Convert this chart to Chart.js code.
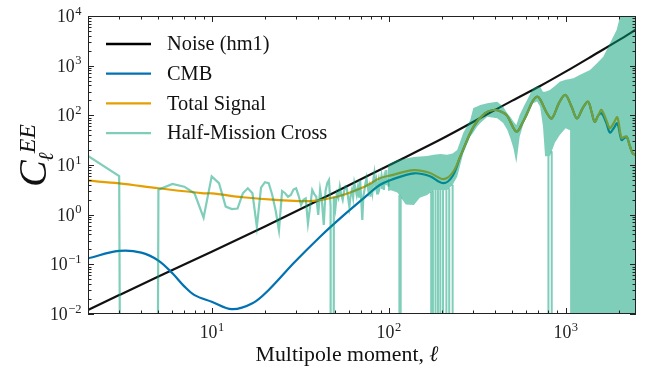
<!DOCTYPE html>
<html><head><meta charset="utf-8">
<script src="https://cdn.jsdelivr.net/npm/chart.js@4"></script>
<style>html,body{margin:0;padding:0;background:#fff}</style>
</head><body>
<canvas id="c" width="649" height="367"></canvas>
<script>
// ---- data ----
const noiseL = [2, 3, 5, 10, 20, 50, 100, 200, 500, 718, 1000, 1500, 2000, 2500];
const noiseV = [0.012, 0.024, 0.057, 0.18, 0.58, 2.85, 9.8, 33.7, 198, 389, 757, 1775, 3260, 5350];

const cmbL = [2,3,4,5,6,7,8,10,13,17,21,29,41,56,76,89,103,139,170,204,230,254,302,350,392,430,465,527,570,606,650,688,718,785,836,920,997,1080,1160,1250,1340,1400,1460,1530,1595,1700,1780,1870,1960,2070,2150,2220,2300,2400,2500];
const cmbV = [0.132,0.186,0.172,0.119,0.066,0.036,0.024,0.0177,0.0125,0.0164,0.0305,0.105,0.36,0.99,2.5,3.96,5.0,6.8,6.0,4.3,6,14.7,59,110,128,120,100,47,70,110,190,237,210,110,87,180,257,150,87,140,188,120,74,100,110,70,45,55,69,32,35,37,25,17,16];

const totL = [2,3,5,9,10,15,23,36,51,73,89,103,139,170,204,230,254,302,350,392,430,465,527,570,606,650,688,718,785,836,920,997,1080,1160,1250,1340,1400,1460,1530,1595,1700,1780,1870,1960,2070,2150,2220,2300,2400,2500];
const totV = [4.83,4.28,3.4,2.69,2.69,2.24,1.98,1.88,2.3,3.66,5.4,6.2,7.9,7.0,5.2,7,15,60,110,128,120,100,47,70,110,190,237,210,110,87,180,257,150,87,140,188,120,74,100,128,80,55,70,91,35,37,37,25,17,16];

// half-mission cross, individual multipoles l = 2..100 (0 = negative, off the log axis)
const crossL = Array.from({length: 99}, (_, i) => i + 2);
const crossV = [
  15.2,6.0,0,3.16,4.15,3.66,2.69,0.87,5.9,                 // l=2..10
  4.3,1.45,1.3,1.33,2.69,3.4,2.69,0.57,3.5,4.5,             // 11..20
  4.3,2.5,1.2,0.48,3.0,2.7,2.3,2.5,3.2,3.39,                // 21..30
  2.4,1.57,2.0,2.13,0.67,1.45,3.14,2.6,2.3,0.99,            // 31..40
  3.14,1.8,0.62,3.0,4.3,5.0,1.45,0,2.3,1.34,                // 41..50
  2.69,2.2,3.66,2.5,1.98,3.0,3.66,3.4,2.2,1.45,             // 51..60
  2.5,3.14,2.2,4.3,3.3,2.49,3.5,2.2,5.0,2.0,                // 61..70
  0.78,2.4,3.14,4.3,5.4,3.8,2.9,3.6,2.3,4.3,                // 71..80
  3.0,5.2,6.8,3.9,4.8,2.69,3.9,5.0,3.6,4.4,                 // 81..90
  5.8,3.3,4.6,3.14,5.2,4.0,7.9,4.1,5.2,3.66                 // 91..100
];

// half-mission cross, dense multipoles: envelope of the scatter
const bandL = [99,103,112,125,139,150,165,180,196,214,230,244,264,289,301,316,330,361,411,444,468,487,507,527,550,580,606,655,690,718,745,766,815,870,927,1000,1060,1085,1107,1200,1374,1500,1633,1781,1943,2030,2100,2500];
const bandUp = [10,11,12.6,13.5,14.5,14.8,15.2,16,16.6,16,17,20,44,80,141,150,162,175,188,149,110,94,75,64,102,150,204,350,377,377,299,299,324,389,476,520,540,550,557,650,818,1100,1513,2820,5240,9700,20000,20000];
const bandLo = [3.0,3.1,2.8,1.6,1.57,2.2,2.5,3.1,3.1,3.1,4,5.8,17,37,45,59,70,94,87,70,51,35,22,10.8,37,70,94,175,190,149,60,15,15,28,40,55,50,0,0,0,0,0,0,0,0,0,0,0];
// multipoles where the cross spectrum dips negative inside the dense range
const negL = [115,117,174,178,184,190,196,203,212,220,230,800,835];

const OFF = 1e-100; // non-positive values are drawn off the bottom of the log axis
const pos = v => (v > 0 ? v : OFF);
const pts = (L, V) => L.map((l, i) => ({x: l, y: pos(V[i])}));
function bandLowAt(l){
  for (let i = 1; i < bandL.length; i++) if (bandL[i] >= l) {
    const a = bandLo[i-1], b = bandLo[i];
    if (!(a > 0 && b > 0)) return Math.max(a, b, 1);
    const t = (Math.log(l) - Math.log(bandL[i-1])) / (Math.log(bandL[i]) - Math.log(bandL[i-1]));
    return Math.exp(Math.log(a) + t * (Math.log(b) - Math.log(a)));
  }
  return 1;
}
const negPts = [];
negL.forEach(l => { negPts.push({x: l, y: bandLowAt(l)}, {x: l, y: OFF}, {x: l, y: null}); });

const TEAL = 'rgba(0,158,115,0.5)';
const SERIF = '"Liberation Serif", "DejaVu Serif", serif';

const legendItems = [
  {label: 'Noise (hm1)', color: '#000000'},
  {label: 'CMB', color: '#0072b2'},
  {label: 'Total Signal', color: '#e69f00'},
  {label: 'Half-Mission Cross', color: TEAL}
];

function sup(ctx, base, exp, x, y, align) {
  ctx.font = '17.8px ' + SERIF;
  const w1 = ctx.measureText(base).width;
  ctx.font = '12.5px ' + SERIF;
  const w2 = ctx.measureText(exp).width;
  let x0 = align === 'right' ? x - w1 - w2 : x - (w1 + w2) / 2;
  ctx.textAlign = 'left';
  ctx.textBaseline = 'alphabetic';
  ctx.font = '17.8px ' + SERIF;
  ctx.fillText(base, x0, y);
  ctx.font = '12.5px ' + SERIF;
  ctx.fillText(exp, x0 + w1 + 0.5, y - 7.5);
}

const decor = {
  id: 'decor',
  afterDraw(chart) {
    const ctx = chart.ctx, a = chart.chartArea;
    const xs = chart.scales.x, ys = chart.scales.y;
    ctx.save();
    ctx.strokeStyle = '#222';
    ctx.lineWidth = 1;
    ctx.strokeRect(a.left + 0.5, a.top + 0.5, a.right - a.left - 1, a.bottom - a.top - 1);
    for (let e = -2; e <= 4; e++) {
      for (let m = 1; m <= 9; m++) {
        const v = m * Math.pow(10, e);
        if (v > 1e4 + 1) break;
        const py = Math.round(ys.getPixelForValue(v)) + 0.5;
        const len = m === 1 ? 6 : 3.5;
        ctx.beginPath();
        ctx.moveTo(a.left, py); ctx.lineTo(a.left + len, py);
        ctx.moveTo(a.right, py); ctx.lineTo(a.right - len, py);
        ctx.stroke();
      }
    }
    for (let e = 0; e <= 3; e++) {
      for (let m = 1; m <= 9; m++) {
        const v = m * Math.pow(10, e);
        if (v < 2 || v > 2500) continue;
        const px = Math.round(xs.getPixelForValue(v)) + 0.5;
        const len = m === 1 ? 6 : 3.5;
        ctx.beginPath();
        ctx.moveTo(px, a.bottom); ctx.lineTo(px, a.bottom - len);
        ctx.moveTo(px, a.top); ctx.lineTo(px, a.top + len);
        ctx.stroke();
      }
    }
    ctx.fillStyle = '#222';
    const yExp = ['\u22122','\u22121','0','1','2','3','4'];
    for (let e = -2; e <= 4; e++) {
      const py = ys.getPixelForValue(Math.pow(10, e));
      sup(ctx, '10', yExp[e + 2], a.left - 7, py + 6, 'right');
    }
    for (let e = 1; e <= 3; e++) {
      const px = xs.getPixelForValue(Math.pow(10, e));
      sup(ctx, '10', String(e), px, 338, 'center');
    }
    // x title with italic ell
    ctx.fillStyle = '#111';
    ctx.textBaseline = 'alphabetic';
    ctx.textAlign = 'left';
    const t1 = 'Multipole moment, ';
    ctx.font = '21.8px ' + SERIF;
    const wt1 = ctx.measureText(t1).width;
    ctx.font = 'italic 21.8px ' + SERIF;
    const wt2 = ctx.measureText('\u2113').width;
    const tx = 347 - (wt1 + wt2) / 2;
    ctx.font = '21.8px ' + SERIF;
    ctx.fillText(t1, tx, 361);
    ctx.font = 'italic 21.8px ' + SERIF;
    ctx.fillText('\u2113', tx + wt1, 361);
    // y title C_l^EE rotated
    ctx.save();
    ctx.translate(46, 187);
    ctx.rotate(-Math.PI / 2);
    ctx.textAlign = 'left';
    ctx.font = 'italic 40px ' + SERIF;
    const wc = ctx.measureText('C').width;
    ctx.fillText('C', 0, 0);
    ctx.font = 'italic 24px ' + SERIF;
    ctx.fillText('EE', wc + 7, -11);
    ctx.font = 'italic 21px ' + SERIF;
    ctx.fillText('\u2113', wc - 1, 7);
    ctx.restore();
    // legend
    legendItems.forEach((it, i) => {
      const y = 44 + i * 29.7;
      ctx.strokeStyle = it.color;
      ctx.lineWidth = 2.3;
      ctx.beginPath(); ctx.moveTo(106, y); ctx.lineTo(151, y); ctx.stroke();
      ctx.fillStyle = '#111';
      ctx.font = '20.4px ' + SERIF;
      ctx.textAlign = 'left';
      ctx.textBaseline = 'middle';
      ctx.fillText(it.label, 167, y + 1);
    });
    ctx.restore();
  }
};

new Chart(document.getElementById('c'), {
  type: 'line',
  data: {
    datasets: [
      {label: 'Half-Mission Cross', data: pts(crossL, crossV), borderColor: TEAL, borderWidth: 2.2, pointRadius: 0, tension: 0, order: 0},
      {label: 'band-up', data: pts(bandL, bandUp), borderColor: 'rgba(0,0,0,0)', borderWidth: 0, pointRadius: 0, tension: 0, fill: '+1', backgroundColor: TEAL, order: 0},
      {label: 'band-lo', data: pts(bandL, bandLo), borderColor: 'rgba(0,0,0,0)', borderWidth: 0, pointRadius: 0, tension: 0, fill: false, order: 0},
      {label: 'neg', data: negPts, borderColor: TEAL, borderWidth: 2, pointRadius: 0, tension: 0, spanGaps: false, order: 0},
      {label: 'Total Signal', data: pts(totL, totV), borderColor: '#e69f00', borderWidth: 2.2, pointRadius: 0, tension: 0.35, order: 1},
      {label: 'CMB', data: pts(cmbL, cmbV), borderColor: '#0072b2', borderWidth: 2.2, pointRadius: 0, tension: 0.35, order: 2},
      {label: 'Noise (hm1)', data: pts(noiseL, noiseV), borderColor: '#111', borderWidth: 2.2, pointRadius: 0, cubicInterpolationMode: 'monotone', order: 3}
    ]
  },
  options: {
    responsive: false,
    animation: false,
    devicePixelRatio: 1,
    layout: {padding: {left: 88, right: 13, top: 16, bottom: 53}},
    plugins: {legend: {display: false}, tooltip: {enabled: false}, filler: {propagate: false}},
    scales: {
      x: {type: 'logarithmic', min: 2, max: 2500, display: false},
      y: {type: 'logarithmic', min: 1e-2, max: 1e4, display: false}
    }
  },
  plugins: [decor]
});
</script>
</body></html>
